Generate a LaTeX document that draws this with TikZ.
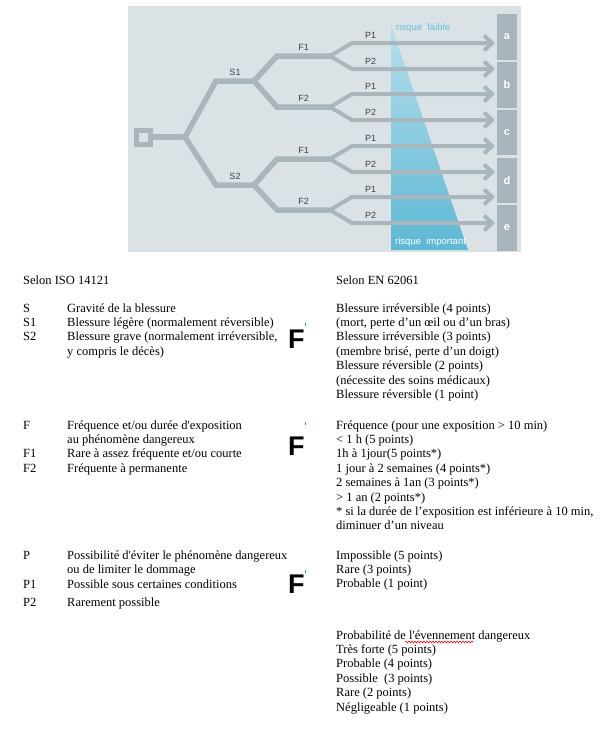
\documentclass[tikz,border=0pt]{standalone}
\usepackage{fontspec}
\setmainfont{Liberation Serif}
\setsansfont{Liberation Sans}
\usetikzlibrary{arrows.meta,positioning,calc,decorations.pathmorphing}
\definecolor{panel}{HTML}{DAE2E5}
\definecolor{branchgray}{HTML}{AAB6BC}
\definecolor{boxgray}{HTML}{A8B4BB}
\definecolor{risklight}{HTML}{B6DFEB}
\definecolor{riskdark}{HTML}{5CB8D4}
\definecolor{risktext}{HTML}{62C2E2}
\definecolor{marker}{HTML}{2A8FD6}
\tikzset{
  >={Straight Barb[length=8pt,width=15pt]},
  branch/.style   = {draw=branchgray, line width=5.5pt},
  pline/.style    = {draw=branchgray, line width=4pt},
  lbl/.style      = {font=\sffamily\fontsize{9}{10}\selectfont, text=black!75, inner sep=3pt},
  riskbox/.style  = {fill=boxgray, minimum width=20pt, minimum height=45.5pt, inner sep=0pt,
                     font=\sffamily\bfseries\fontsize{11}{12}\selectfont, text=white},
  risklbl/.style  = {anchor=west, inner sep=0pt, font=\sffamily\fontsize{9.5}{10}\selectfont},
  txt/.style      = {anchor=base west, inner sep=0pt, font=\fontsize{12.5}{14.4}\selectfont},
  bigF/.style     = {anchor=base west, inner sep=0pt, font=\sffamily\bfseries\fontsize{27}{30}\selectfont}
}

\begin{document}
\begin{tikzpicture}[x=1pt, y=-1pt]  % pixel-like units, y pointing down
  \path[fill=white] (0,0) rectangle (609,736);

  %  --  Panel and risk triangle
  \fill[panel] (128,6) rectangle (521,252);
  \shade[top color=risklight, bottom color=riskdark] (391,25) -- (468,250) -- (391,250) -- cycle;
  \node[risklbl, text=risktext] (faible) at (396,28) {risque\ \ faible};
  \node[risklbl, text=white] (important) at (395,242) {risque\ \ important};

  %  --  Result boxes a,...,e
  \foreach \l [count=\i] in {a,b,c,d,e}{
    \node[riskbox] (box\l) at (507,{37+47.75*(\i-1)}) {\l};
  }

  %  --  Root and S branches
  \node[draw=branchgray, line width=5pt, minimum size=14pt, inner sep=0pt] (start) at (143,137) {};
  \coordinate (root) at (185,137);
  \draw[branch] (start) -- (root);
  \foreach \s/\y in {1/81,2/185}{
    \coordinate (s\s) at (216,\y);
    \coordinate (s\s e) at (254,\y);
    \draw[branch] (root) -- (s\s) -- node[lbl, above] {S\s} (s\s e);
  }

  %  --  F branches, then P arrows towards the boxes
  \foreach \s/\f/\y in {1/1/56,1/2/107,2/1/159,2/2/210}{
    \coordinate (f\s\f) at (277,\y);
    \coordinate (f\s\f e) at (330,\y);
    \draw[branch] (s\s e) -- (f\s\f) -- node[lbl, above] {F\f} (f\s\f e);
    \foreach \p/\dy in {1/-13,2/13}{
      \coordinate (p\s\f\p) at (352,\y+\dy);
      \coordinate (t\s\f\p) at (495,\y+\dy);
      \draw[pline, ->] (f\s\f e) -- (p\s\f\p) -- node[lbl, above, pos=0.13] {P\p} (t\s\f\p);
    }
  }

  %  --  Left column: Selon ISO 14121
  \node[txt] (iso) at (23,284) {Selon ISO 14121};
  \foreach \k/\y in {S/312,S1/326.4,S2/340.8,F/429,F1/457.8,F2/472.2,P/559,P1/588,P2/606}{
    \node[txt] (key\k) at (23,\y) {\k};
  }
  \node[txt] (dS)  at (67,312)   {Gravité de la blessure};
  \node[txt] (dS1) at (67,326.4) {Blessure légère (normalement réversible)};
  \node[txt] (dS2) at (67,340.8) {Blessure grave (normalement irréversible,};
  \node[txt] (dS2b) at (67,355.2) {y compris le décès)};
  \node[txt] (dF)  at (67,429)   {Fréquence et/ou durée d\textquotesingle exposition};
  \node[txt] (dFb) at (67,443.4) {au phénomène dangereux};
  \node[txt] (dF1) at (67,457.8) {Rare à assez fréquente et/ou courte};
  \node[txt] (dF2) at (67,472.2) {Fréquente à permanente};
  \node[txt] (dP)  at (67,559)   {Possibilité d\textquotesingle éviter le phénomène dangereux};
  \node[txt] (dPb) at (67,573.4) {ou de limiter le dommage};
  \node[txt] (dP1) at (67,588)   {Possible sous certaines conditions};
  \node[txt] (dP2) at (67,606)   {Rarement possible};

  %  --  Big F marks between the columns
  \foreach \y [count=\i] in {348,455,593}{
    \node[bigF] (bigF\i) at (288,\y) {F};
  }
  \foreach \y in {323,422,570}{
    \fill[marker] (304.6,\y) rectangle (306,\y+3);
  }

  %  --  Right column: Selon EN 62061
  \node[txt] (en) at (336,284) {Selon EN 62061};
  \foreach \t [count=\i] in {Blessure irréversible (4 points),
      {(mort, perte d'un œil ou d'un bras)},
      Blessure irréversible (3 points),
      {(membre brisé, perte d'un doigt)},
      Blessure réversible (2 points),
      (nécessite des soins médicaux),
      Blessure réversible (1 point)}{
    \node[txt] (sev\i) at (336,{312+14.4*(\i-1)}) {\t};
  }
  \foreach \t [count=\i] in {Fréquence (pour une exposition > 10 min),
      < 1 h (5 points),
      1h à 1jour(5 points*),
      1 jour à 2 semaines (4 points*),
      2 semaines à 1an (3 points*),
      > 1 an (2 points*),
      {* si la durée de l'exposition est inférieure à 10 min,},
      diminuer d'un niveau}{
    \node[txt] (frq\i) at (336,{429+14.4*(\i-1)}) {\t};
  }
  \foreach \t [count=\i] in {Impossible (5 points), Rare (3 points), Probable (1 point)}{
    \node[txt] (avd\i) at (336,{559+14.4*(\i-1)}) {\t};
  }
  \foreach \t [count=\i] in {Probabilité de l\textquotesingle évennement dangereux,
      Très forte (5 points),
      Probable (4 points),
      Possible\ \ (3 points),
      Rare (2 points),
      Négligeable (1 points)}{
    \node[txt] (prb\i) at (336,{639+14.4*(\i-1)}) {\t};
  }
  % spell-check squiggle under the misspelt word
  \draw[red, line width=0.6pt, decorate, decoration={snake, amplitude=0.9pt, segment length=3pt}]
    (405,642) -- (473,642);
\end{tikzpicture}
\end{document}
